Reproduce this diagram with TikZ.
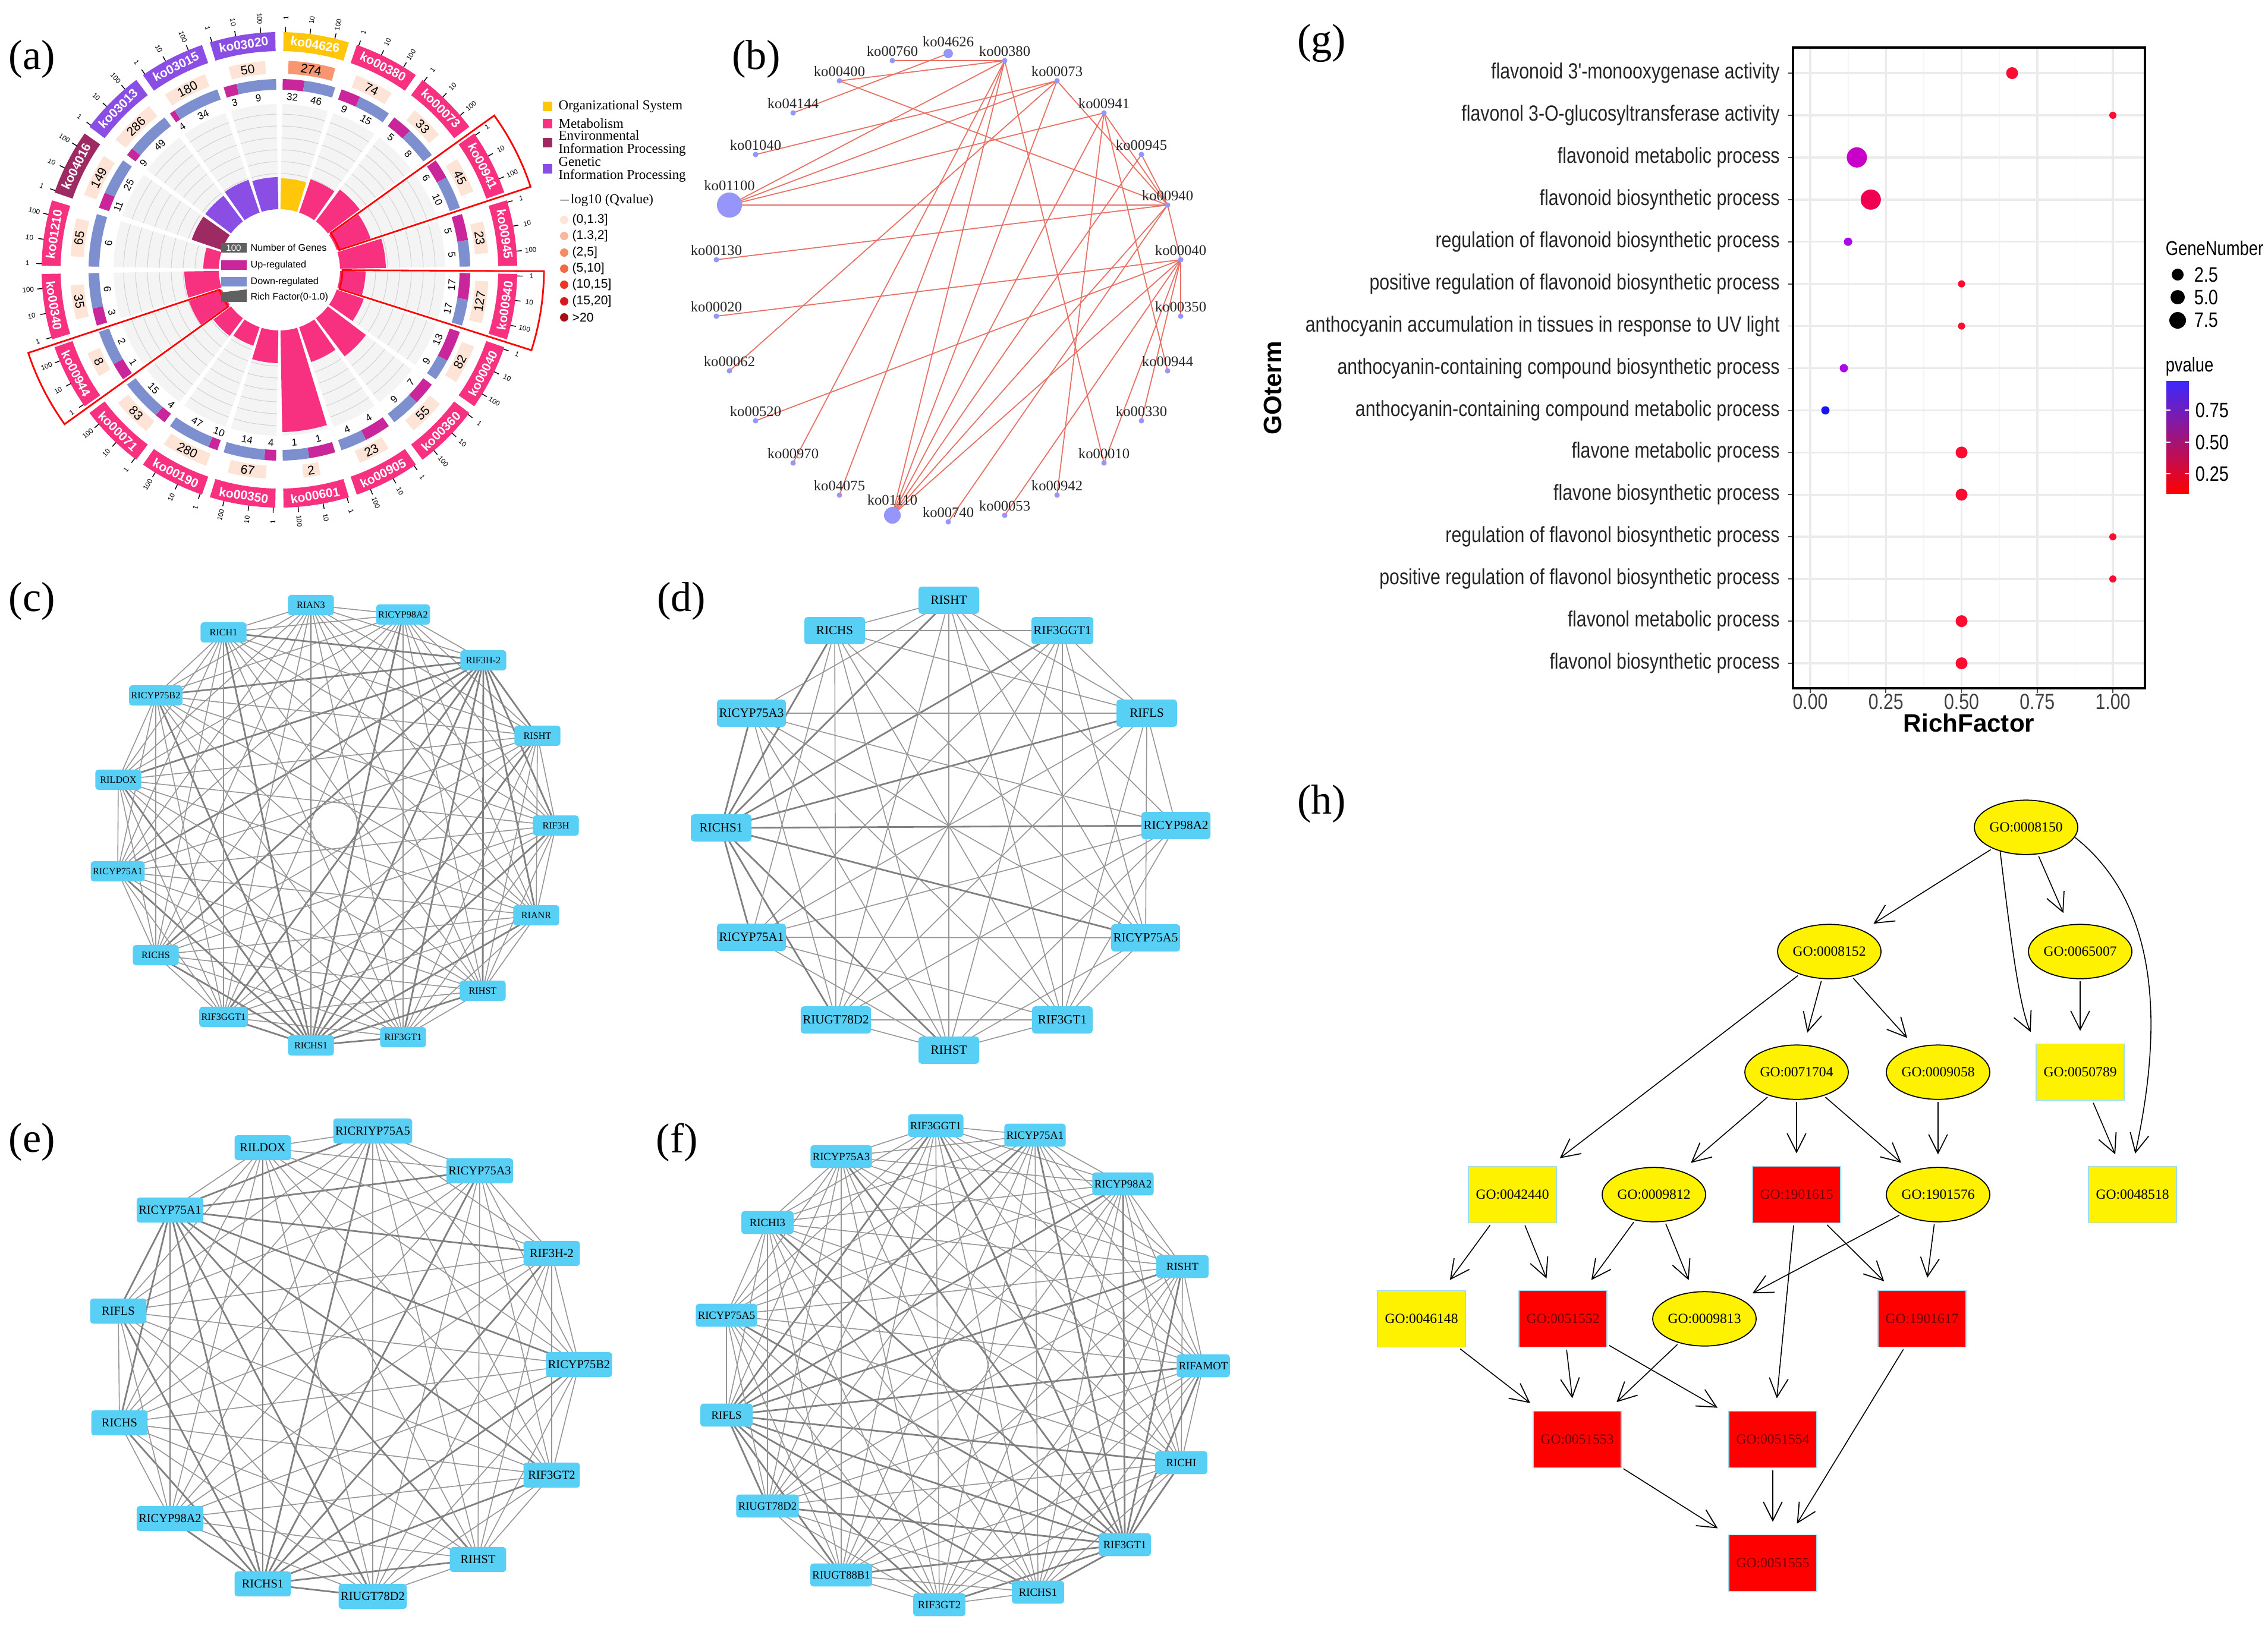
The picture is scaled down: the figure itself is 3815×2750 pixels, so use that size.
\documentclass[tikz,border=0pt]{standalone}
\usepackage{fontspec}
\setmainfont{Liberation Serif}
\setsansfont{Liberation Sans}
\newfontfamily\narrowsans{Liberation Sans}[FakeStretch=0.82]
\usetikzlibrary{shapes.geometric,arrows.meta}
\pgfdeclarelayer{bg}\pgfdeclarelayer{paper}\pgfsetlayers{paper,bg,main}
\newcommand\fsz[1]{\fontsize{#1}{#1}\selectfont}
\newcommand\annsec[5]{\fill[#1] (#2:#4) arc[start angle=#2,end angle=#3,radius=#4] -- (#3:#5) arc[start angle=#3,end angle=#2,radius=#5] -- cycle;}
\newcommand\settrot[2]{\pgfmathsetmacro#1{mod(#2-90+540,360)-180}\pgfmathsetmacro#1{#1<-90?#1+180:(#1>90?#1-180:#1)}}
\newcommand\setrrot[2]{\pgfmathsetmacro#1{mod(#2+540,360)-180}\pgfmathsetmacro#1{#1<-90?#1+180:(#1>90?#1-180:#1)}}
\definecolor{cOrg}{RGB}{255,198,10}
\definecolor{cMet}{RGB}{247,48,128}
\definecolor{cEnv}{RGB}{158,42,100}
\definecolor{cGen}{RGB}{138,78,228}
\definecolor{cUp}{RGB}{200,38,154}
\definecolor{cDn}{RGB}{126,143,208}
\definecolor{qA}{RGB}{253,228,214}
\definecolor{qB}{RGB}{247,150,112}
\definecolor{q2}{RGB}{249,183,155}
\definecolor{q3}{RGB}{247,140,100}
\definecolor{q4}{RGB}{242,106,68}
\definecolor{q5}{RGB}{238,53,38}
\definecolor{q6}{RGB}{215,25,28}
\definecolor{q7}{RGB}{165,15,21}
\definecolor{bgGray}{RGB}{244,244,244}
\definecolor{bcol}{RGB}{150,150,250}
\definecolor{becol}{RGB}{232,112,100}
\definecolor{geneblue}{RGB}{88,207,245}
\definecolor{edgegray}{RGB}{150,150,150}
\definecolor{gored}{RGB}{255,0,0}
\definecolor{gotext}{RGB}{110,0,0}
\definecolor{cyanb}{RGB}{160,220,240}
\definecolor{pR}{RGB}{252,12,48}
\definecolor{pR2}{RGB}{240,0,80}
\definecolor{pM}{RGB}{200,0,200}
\definecolor{pP}{RGB}{170,10,230}
\definecolor{pB}{RGB}{25,20,240}
\definecolor{pTop}{RGB}{60,40,255}
\definecolor{pMid}{RGB}{225,0,170}
\tikzset{
 plab/.style={font=\fsz{20}},
 gene/.style={fill=geneblue,rounded corners=1.5pt,inner sep=1pt,text=black},
 gc/.style={gene,font=\fsz{4.6},minimum height=9.7pt,minimum width=22pt},
 gd/.style={gene,font=\fsz{6},minimum height=13pt,minimum width=29pt},
 ge/.style={gene,font=\fsz{5.8},minimum height=12pt,minimum width=27pt},
 gf/.style={gene,font=\fsz{5.3},minimum height=11pt,minimum width=25pt},
 edge/.style={draw=edgegray,line width=0.45pt},
 hedge/.style={draw=edgegray!85!black,line width=0.8pt},
 bdot/.style={circle,fill=bcol,inner sep=0,minimum size=2.6pt,label={[font=\fsz{7},text=black!85,inner sep=0.5pt]above:#1}},
 bedge/.style={draw=becol,line width=0.5pt},
 goE/.style={ellipse,draw=black,line width=0.5pt,fill=yellow,minimum width=41pt,minimum height=26pt,inner sep=0,font=\fsz{6.7}},
 goY/.style={rectangle,draw=cyanb,line width=0.5pt,fill=yellow,minimum width=42pt,minimum height=27pt,inner sep=0,font=\fsz{6.7}},
 goR/.style={rectangle,draw=cyanb,line width=0.5pt,fill=gored,minimum width=42pt,minimum height=27pt,inner sep=0,font=\fsz{6.7},text=gotext},
 arr/.style={-{Straight Barb[length=9pt,width=9pt,line width=0.5pt]},line width=0.45pt,shorten >=6pt,shorten <=1pt},
 glab/.style={anchor=east,font=\narrowsans\fsz{10.5},text=black!85},
 leg/.style={anchor=west,font=\fontsize{6.5}{6.2}\selectfont,inner sep=0,align=left},
}
\begin{document}
\begin{tikzpicture}[x=0.01cm,y=-0.01cm]
\useasboundingbox (0,0) rectangle (3815,2750);
\begin{pgfonlayer}{paper}\fill[white] (0,0) rectangle (3815,2750);\end{pgfonlayer}
% ---------------- panel labels
\node[plab] (la) at (54,100) {(a)};
\node[plab] (lb) at (1272,100) {(b)};
\node[plab] (lc) at (54,1012) {(c)};
\node[plab] (ld) at (1146,1012) {(d)};
\node[plab] (le) at (54,1922) {(e)};
\node[plab] (lf) at (1139,1922) {(f)};
\node[plab] (lg) at (2223,73) {(g)};
\node[plab] (lh) at (2223,1353) {(h)};
% ---------------- panel (a)
\begin{scope}[shift={(470,454)},yscale=-1]
\foreach \k/\nm/\cc/\cnt/\bx/\up/\dn/\rf in {
0/ko04626/cOrg/274/qB/32/46/154,
1/ko00380/cMet/74/qA/9/15/161,
2/ko00073/cMet/33/qA/5/8/169,
3/ko00941/cMet/45/qA/6/10/162,
4/ko00945/cMet/23/qA/5/5/179,
5/ko00940/cMet/127/qA/17/17/145,
6/ko00040/cMet/82/qA/13/9/150,
7/ko00360/cMet/55/qA/7/9/182,
8/ko00905/cMet/23/qA/4/4/164,
9/ko00601/cMet/2/qA/1/1/273,
10/ko00350/cMet/67/qA/4/14/157,
11/ko00190/cMet/280/qA/10/47/135,
12/ko00071/cMet/83/qA/4/15/139,
13/ko00944/cMet/8/qA/1/2/161,
14/ko00340/cMet/35/qA/3/6/160,
15/ko01210/cMet/65/qA/0/6/128,
16/ko04016/cEnv/149/qA/11/25/156,
17/ko03013/cGen/286/qA/9/49/156,
18/ko03015/cGen/180/qA/4/34/160,
19/ko03020/cGen/50/qA/3/9/156}{
 \pgfmathsetmacro\aS{90-18*\k-1}
 \pgfmathsetmacro\aE{90-18*\k-17}
 \pgfmathsetmacro\aM{90-18*\k-9}
 \settrot{\rot}{\aM}
 \annsec{bgGray}{\aS}{\aE}{102}{279}
 \foreach \rr in {122,142,...,270}{\draw[gray!35,line width=0.3pt] (\aS:\rr) arc[start angle=\aS,end angle=\aE,radius=\rr];}
 \annsec{\cc}{\aS}{\aE}{102}{\rf}
 \annsec{\cc}{\aS}{\aE}{368}{400}
 \node[rotate=\rot,text=white,font=\sffamily\bfseries\fsz{6}] (ko\k) at (\aM:384) {\nm};
 \pgfmathsetmacro\fr{0.22+0.6*ln(\cnt)/ln(300)}
 \pgfmathsetmacro\bA{\aM+8*\fr}\pgfmathsetmacro\bB{\aM-8*\fr}
 \annsec{\bx}{\bA}{\bB}{330}{352}
 \node[rotate=\rot,font=\sffamily\fsz{6}] (cn\k) at (\aM:341) {\cnt};
 \pgfmathsetmacro\aU{\aS-16*\up/(\up+\dn)}
 \annsec{cUp}{\aS}{\aU}{303}{321}
 \annsec{cDn}{\aU}{\aE}{303}{321}
 \pgfmathsetmacro\aUm{(\aS+\aU)/2}\pgfmathsetmacro\aDm{(\aU+\aE)/2}
 \settrot{\rU}{\aUm}\settrot{\rD}{\aDm}
 \ifnum\up>0 \node[rotate=\rU,font=\sffamily\fsz{4.8}] (up\k) at (\aUm:291) {\up};\fi
 \node[rotate=\rD,font=\sffamily\fsz{4.8}] (dn\k) at (\aDm:291) {\dn};
 \foreach \t/\lb in {0.03/1,0.4/10,0.78/100}{
   \pgfmathsetmacro\at{\aS-16*\t}
   \setrrot{\rr}{\at}
   \draw[line width=0.4pt] (\at:400) -- (\at:409);
   \node[rotate=\rr,font=\sffamily\fsz{3.3},inner sep=0] (tk\k\lb) at (\at:424) {\lb};
 }
}
\foreach \s in {3,5,13}{
 \pgfmathsetmacro\aS{90-18*\s-0.3}\pgfmathsetmacro\aE{90-18*\s-17.7}
 \draw[red,line width=0.8pt] (\aS:106) arc[start angle=\aS,end angle=\aE,radius=106] -- (\aE:445) arc[start angle=\aE,end angle=\aS,radius=445] -- cycle;
}
\end{scope}
% centre legend of (a)
\fill[gray!75!black] (372,409) rectangle (415,425);
\node[text=white,font=\sffamily\fsz{4.3}] (nbx) at (393,417) {100};
\fill[cUp] (372,438) rectangle (415,454);
\fill[cDn] (372,466) rectangle (415,482);
\fill[gray!75!black] (372,492) -- (415,487) -- (415,508) -- (372,508) -- cycle;
\foreach \y/\t [count=\i] in {417/Number of Genes,446/Up-regulated,474/Down-regulated,500/Rich Factor(0-1.0)}
  \node[anchor=west,font=\sffamily\fsz{4.6},inner sep=0] (cl\i) at (421,\y) {\t};
% right legend of (a)
\fill[cOrg] (913,171) rectangle (929,187);
\fill[cMet] (913,200) rectangle (929,216);
\fill[cEnv] (913,232) rectangle (929,248);
\fill[cGen] (913,276) rectangle (929,292);
\node[leg] (lg1) at (939,179) {Organizational System};
\node[leg] (lg2) at (939,208) {Metabolism};
\node[leg] (lg3) at (939,241) {Environmental\\Information Processing};
\node[leg] (lg4) at (939,285) {Genetic\\Information Processing};
\node[leg] (lgq) at (939,337) {$-$log10 (Qvalue)};
\foreach \y/\c/\t [count=\i] in {370/qA/{(0,1.3]},397/q2/{(1.3,2]},425/q3/{(2,5]},452/q4/{(5,10]},479/q5/{(10,15]},507/q6/{(15,20]},534/q7/{>20}}{
 \fill[\c] (949,\y) circle (7);
 \node[anchor=west,font=\sffamily\fsz{6},inner sep=0] (qv\i) at (962,\y) {\t};
}
% ---------------- panel (b)
\foreach \n/\x/\y in {00760/1501/102,00380/1690/102,00400/1412/136,00073/1778/136,04144/1334/190,00941/1857/190,01040/1271/260,00945/1920/260,00940/1964/345,00130/1205/437,00040/1986/437,00020/1205/532,00350/1986/532,00062/1227/624,00944/1964/624,00520/1271/708,00330/1920/708,00970/1334/779,00010/1857/779,04075/1412/833,00942/1778/833,00053/1690/867,00740/1595/878}
 \node[bdot=ko\n] (b\n) at (\x,\y) {};
\node[bdot=ko04626,minimum size=4.5pt] (b04626) at (1595,90) {};
\node[bdot=ko01100,minimum size=12pt] (b01100) at (1227,345) {};
\node[bdot=ko01110,minimum size=8pt] (b01110) at (1501,867) {};
\begin{pgfonlayer}{bg}
\foreach \a/\b in {00760/00380,04626/04144,00400/00380,00400/00940,00380/01100,00380/04075,00380/01110,00380/00010,00380/00970,00073/01040,00073/01100,00073/00940,00073/01110,00073/00062,00941/01100,00941/00940,00941/01110,00941/00942,00941/00944,00945/00940,00945/01110,01100/00940,00940/00130,00940/01110,00940/00040,00940/00740,00040/00020,00040/00520,00040/01110,00040/00053,00040/00010,00040/00330,00040/00350}
 \draw[bedge] (b\a.center) -- (b\b.center);
\end{pgfonlayer}
% ---------------- panel (c)
\foreach \t/\x/\y [count=\i] in {RIAN3/523/1018,RICYP98A2/678/1034,RIF3H-2/813/1111,RISHT/904/1238,RIF3H/935/1389,RIANR/902/1540,RIHST/812/1667,RIF3GT1/678/1745,RICHS1/523/1759,RIF3GGT1/376/1711,RICHS/262/1607,RICYP75A1/198/1466,RILDOX/199/1312,RICYP75B2/262/1170,RICH1/376/1064}
 \node[gc] (c\i) at (\x,\y) {\t};
\begin{pgfonlayer}{bg}
\foreach \i in {1,...,15}{\foreach \j in {1,...,15}{\ifnum\i<\j
 \ifnum\i=9 \draw[hedge] (c\i.center)--(c\j.center);\else\ifnum\j=9 \draw[hedge] (c\i.center)--(c\j.center);\else\ifnum\i=3 \draw[hedge] (c\i.center)--(c\j.center);\else\draw[edge] (c\i.center)--(c\j.center);\fi\fi\fi\fi}}
\end{pgfonlayer}
% ---------------- panel (d)
\foreach \t/\x/\y [count=\i] in {RISHT/1596/1010,RIF3GGT1/1787/1061,RIFLS/1929/1200,RICYP98A2/1978/1389,RICYP75A5/1927/1578,RIF3GT1/1787/1716,RIHST/1596/1767,RIUGT78D2/1406/1716,RICYP75A1/1264/1577,RICHS1/1213/1393,RICYP75A3/1264/1200,RICHS/1404/1061}
 \node[gd] (d\i) at (\x,\y) {\t};
\begin{pgfonlayer}{bg}
\foreach \i in {1,...,12}{\foreach \j in {1,...,12}{\ifnum\i<\j
 \pgfmathtruncatemacro\s{mod(\i*\j+\i,7)}
 \ifnum\s=3\relax\else
 \ifnum\i=10 \draw[hedge] (d\i.center)--(d\j.center);\else\ifnum\j=10 \draw[hedge] (d\i.center)--(d\j.center);\else\draw[edge] (d\i.center)--(d\j.center);\fi\fi\fi\fi}}
\end{pgfonlayer}
% ---------------- panel (e)
\foreach \t/\x/\y [count=\i] in {RICRIYP75A5/627/1903,RICYP75A3/807/1970,RIF3H-2/928/2109,RICYP75B2/974/2296,RIF3GT2/928/2482,RIHST/804/2624,RIUGT78D2/627/2686,RICHS1/442/2665,RICYP98A2/286/2555,RICHS/201/2394,RIFLS/199/2206,RICYP75A1/286/2036,RILDOX/442/1931}
 \node[ge] (e\i) at (\x,\y) {\t};
\begin{pgfonlayer}{bg}
\foreach \i in {1,...,13}{\foreach \j in {1,...,13}{\ifnum\i<\j
 \ifnum\i=8 \draw[hedge] (e\i.center)--(e\j.center);\else\ifnum\j=8 \draw[hedge] (e\i.center)--(e\j.center);\else\ifnum\j=12 \draw[hedge] (e\i.center)--(e\j.center);\else\draw[edge] (e\i.center)--(e\j.center);\fi\fi\fi\fi}}
\end{pgfonlayer}
% ---------------- panel (f)
\foreach \t/\x/\y [count=\i] in {RIF3GGT1/1574/1894,RICYP75A1/1741/1910,RICYP98A2/1889/1992,RISHT/1989/2131,RIFAMOT/2024/2298,RICHI/1987/2461,RIF3GT1/1892/2599,RICHS1/1746/2679,RIF3GT2/1580/2700,RIUGT88B1/1415/2650,RIUGT78D2/1291/2534,RIFLS/1222/2381,RICYP75A5/1222/2213,RICHI3/1291/2057,RICYP75A3/1415/1946}
 \node[gf] (f\i) at (\x,\y) {\t};
\begin{pgfonlayer}{bg}
\foreach \i in {1,...,15}{\foreach \j in {1,...,15}{\ifnum\i<\j
 \ifnum\i=7 \draw[hedge] (f\i.center)--(f\j.center);\else\ifnum\j=7 \draw[hedge] (f\i.center)--(f\j.center);\else\ifnum\j=12 \draw[hedge] (f\i.center)--(f\j.center);\else\draw[edge] (f\i.center)--(f\j.center);\fi\fi\fi\fi}}
\end{pgfonlayer}
% ---------------- panel (g)
\foreach \r in {0.125,0.375,0.625,0.875}{\draw[gray!8,line width=0.5pt] (3045+509*\r,80) -- (3045+509*\r,1158);}
\foreach \r in {0,0.25,0.5,0.75,1}{\draw[gray!16,line width=1pt] (3045+509*\r,80) -- (3045+509*\r,1158);
  \draw[line width=0.5pt,gray!60!black] (3045+509*\r,1158) -- (3045+509*\r,1166);}
\foreach \t [count=\i from 0] in {{flavonoid 3'-monooxygenase activity},{flavonol 3-O-glucosyltransferase activity},{flavonoid metabolic process},{flavonoid biosynthetic process},{regulation of flavonoid biosynthetic process},{positive regulation of flavonoid biosynthetic process},{anthocyanin accumulation in tissues in response to UV light},{anthocyanin-containing compound biosynthetic process},{anthocyanin-containing compound metabolic process},{flavone metabolic process},{flavone biosynthetic process},{regulation of flavonol biosynthetic process},{positive regulation of flavonol biosynthetic process},{flavonol metabolic process},{flavonol biosynthetic process}}{
 \draw[gray!16,line width=1pt] (3016,123+70.93*\i) -- (3608,123+70.93*\i);
 \draw[line width=0.5pt,gray!60!black] (3008,123+70.93*\i) -- (3016,123+70.93*\i);
 \node[glab] (gt\i) at (3006,123+70.93*\i) {\t};
}
\draw[line width=0.9pt] (3016,80) rectangle (3608,1158);
\foreach \r/\c/\s [count=\i from 0] in {0.667/pR/10,1/pR/6,0.154/pM/17,0.2/pR2/17,0.125/pP/7,0.5/pR/6,0.5/pR/6,0.111/pP/7,0.05/pB/7,0.5/pR/10,0.5/pR/10,1/pR/6,1/pR/6,0.5/pR/10,0.5/pR/10}
 \fill[\c] (3045+509*\r,123+70.93*\i) circle (\s);
\foreach \r/\t in {0/0.00,0.25/0.25,0.5/0.50,0.75/0.75,1/1.00}
 \node[font=\narrowsans\fsz{10.5},text=black!75] (gx\t) at (3045+509*\r,1181) {\t};
\node[font=\sffamily\bfseries\fsz{12}] (gxl) at (3312,1216) {RichFactor};
\node[font=\sffamily\bfseries\fsz{12},rotate=90] (gyl) at (2141,653) {GOterm};
\node[anchor=west,font=\narrowsans\fsz{9.5},inner sep=0] (gnl) at (3642,418) {GeneNumber};
\foreach \y/\s/\t in {462/10/2.5,500/12/5.0,539/14/7.5}{
 \fill (3663,\y) circle (\s);
 \node[anchor=west,font=\narrowsans\fsz{10},inner sep=0] (gn\t) at (3690,\y) {\t};}
\node[anchor=west,font=\narrowsans\fsz{9.5},inner sep=0] (pvl) at (3642,617) {pvalue};
\shade[top color=pTop,middle color=pMid,bottom color=red] (3644,641) rectangle (3682,830);
\foreach \y/\t in {690/0.75,744/0.50,797/0.25}{
 \draw[white,line width=0.5pt] (3644,\y) -- (3651,\y) (3675,\y) -- (3682,\y);
 \node[anchor=west,font=\narrowsans\fsz{10},inner sep=0] (pv\t) at (3692,\y) {\t};}
% ---------------- panel (h)
\node[goE] (h8150) at (3408,1392) {GO:0008150};
\node[goE] (h8152) at (3077,1601) {GO:0008152};
\node[goE] (h65007) at (3499,1601) {GO:0065007};
\node[goE] (h71704) at (3022,1804) {GO:0071704};
\node[goE] (h9058) at (3260,1804) {GO:0009058};
\node[goY] (h50789) at (3499,1804) {GO:0050789};
\node[goY] (h42440) at (2544,2010) {GO:0042440};
\node[goE] (h9812) at (2782,2010) {GO:0009812};
\node[goR] (h1901615) at (3022,2010) {GO:1901615};
\node[goE] (h1901576) at (3260,2010) {GO:1901576};
\node[goY] (h48518) at (3587,2010) {GO:0048518};
\node[goY] (h46148) at (2391,2219) {GO:0046148};
\node[goR] (h51552) at (2629,2219) {GO:0051552};
\node[goE] (h9813) at (2867,2219) {GO:0009813};
\node[goR] (h1901617) at (3233,2219) {GO:1901617};
\node[goR] (h51553) at (2653,2422) {GO:0051553};
\node[goR] (h51554) at (2982,2422) {GO:0051554};
\node[goR] (h51555) at (2982,2630) {GO:0051555};
\foreach \a/\b in {8150/8152,8150/65007,8152/42440,8152/71704,8152/9058,65007/50789,71704/9812,71704/1901615,71704/1901576,9058/1901576,50789/48518,42440/46148,42440/51552,9812/51552,9812/9813,1901615/51554,1901615/1901617,1901576/9813,1901576/1901617,46148/51553,51552/51553,51552/51554,9813/51553,51553/51555,51554/51555,1901617/51555}
 \draw[arr] (h\a) -- (h\b);
\draw[arr] (h8150.south west) ++(18,3) .. controls (3380,1560) and (3395,1690) .. (h50789.north west);
\draw[arr] (h8150.east) ++(-8,15) .. controls (3630,1520) and (3640,1720) .. (h48518.north);
\end{tikzpicture}
\end{document}
